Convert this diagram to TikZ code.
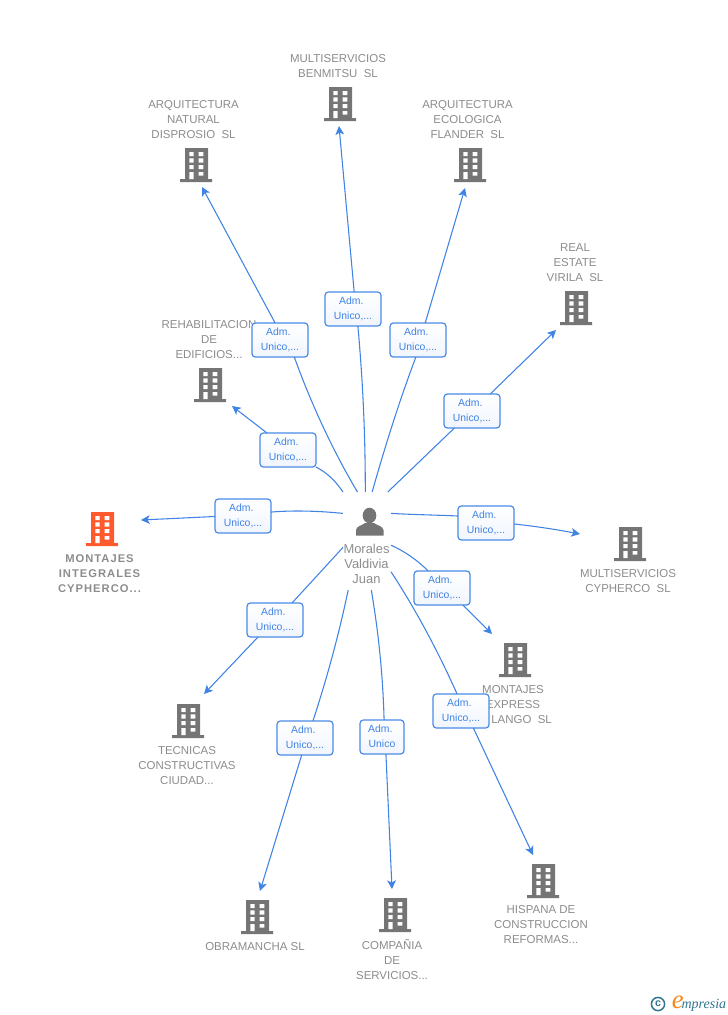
\documentclass[tikz,border=0pt]{standalone}
\usepackage{fontspec}
\setmainfont{Liberation Sans}
\newfontfamily\boldlab[LetterSpace=9]{Liberation Sans Bold}
\newfontfamily\logofont{Liberation Serif}
\usetikzlibrary{arrows.meta}
\definecolor{linkblue}{HTML}{3F83E4}
\definecolor{boxblue}{HTML}{4A8BE6}
\definecolor{txtblue}{HTML}{3F83E4}
\definecolor{labgray}{HTML}{8C8C8C}
\definecolor{icongray}{HTML}{757575}
\definecolor{orangeicon}{HTML}{FF5A2D}
\definecolor{logoteal}{HTML}{2F7590}
\definecolor{logoorange}{HTML}{F08A1D}
\newcommand{\wsp}{\hspace{0.55em}}
\newcommand{\rtxt}[1]{\raisebox{-1.2pt}{\begin{tabular}{@{}c@{}}\mbox{Adm.\hspace{2.5pt}}\\#1\end{tabular}}}
\newcommand{\bldg}[4]{% name, centre x, top y, colour
  \node[bldnode] (#1) at (#2,#3+17) {};
  \begin{scope}[shift={(#2,#3)}]
    \fill[#4] (-11,0) rectangle (12,31) (-16,31) rectangle (16,34);
    \fill[white] (-6.7,4) rectangle (-2.3,8) (2.7,4) rectangle (7.3,8)
      (-6.7,10.3) rectangle (-2.3,14.7) (2.7,10.3) rectangle (7.3,14.7)
      (-6.7,17) rectangle (-2.3,21) (2.7,17) rectangle (7.3,21)
      (-6.7,24) rectangle (-2.3,31) (2.7,24) rectangle (7.3,27.7);
  \end{scope}}
\tikzset{
  bldnode/.style={inner sep=0pt,minimum width=24pt,minimum height=25.5pt},
  lab/.style={inner sep=0pt,align=center,text=labgray,font=\fontsize{8.6pt}{11.25pt}\selectfont},
  mainlab/.style={inner sep=0pt,align=center,text=labgray,font=\boldlab\fontsize{8.4pt}{11.25pt}\selectfont},
  perslab/.style={inner sep=0pt,align=center,text=labgray,font=\fontsize{9.7pt}{11.25pt}\selectfont},
  rel/.style={draw=boxblue,line width=0.9pt,rounded corners=2.5pt,top color=white,bottom color=white!92!boxblue,
    minimum width=42pt,minimum height=25.5pt,inner sep=0pt,outer sep=0pt,text=txtblue,
    font=\fontsize{7.8pt}{11.25pt}\selectfont},
  relsmall/.style={rel,minimum width=33pt},
  conn/.style={draw=linkblue,line width=0.8pt},
  arr/.style={conn,-{Stealth[length=6.5pt,width=6.5pt,inset=1.6pt]}},
  persbox/.style={inner sep=0pt,outer sep=0pt,minimum width=36pt,minimum height=73.5pt}
}
\begin{document}
\begin{tikzpicture}[x=0.75pt,y=-0.75pt]
\useasboundingbox (0,0) rectangle (728,1015);
% person
\node[persbox] (person) at (367,541) {};
% buildings
\bldg{arqnat}{196}{148}{icongray}
\bldg{benmitsu}{340}{87}{icongray}
\bldg{arqeco}{470}{148}{icongray}
\bldg{virila}{576}{291}{icongray}
\bldg{rehab}{210}{368}{icongray}
\bldg{montint}{102}{512}{orangeicon}
\bldg{cypherco}{630}{527}{icongray}
\bldg{express}{515}{643}{icongray}
\bldg{tecnicas}{188}{704}{icongray}
\bldg{obra}{257}{900}{icongray}
\bldg{compania}{395}{898}{icongray}
\bldg{hispana}{543}{864}{icongray}
% labels
\node[lab] (larqnat) at (193.5,120) {ARQUITECTURA\\NATURAL\\DISPROSIO\wsp SL};
\node[lab] (lbenmitsu) at (338,66.5) {MULTISERVICIOS\\BENMITSU\wsp SL};
\node[lab] (larqeco) at (467.5,120) {ARQUITECTURA\\ECOLOGICA\\FLANDER\wsp SL};
\node[lab] (lvirila) at (575,263) {REAL\\ESTATE\\VIRILA\wsp SL};
\node[lab] (lrehab) at (209,340) {REHABILITACION\\DE\\EDIFICIOS...};
\node[mainlab] (lmontint) at (99.5,574) {MONTAJES\\INTEGRALES\\CYPHERCO...};
\node[lab] (lcypherco) at (628,581.5) {MULTISERVICIOS\\CYPHERCO\wsp SL};
\node[lab] (lexpress) at (513,705) {MONTAJES\\EXPRESS\\\phantom{ME}LANGO\wsp SL};
\node[lab] (ltecnicas) at (187,766) {TECNICAS\\CONSTRUCTIVAS\\CIUDAD...};
\node[lab] (lobra) at (255,947) {OBRAMANCHA SL};
\node[lab] (lcompania) at (392,960) {COMPAÑIA\\DE\\SERVICIOS...};
\node[lab] (lhispana) at (541,925) {HISPANA DE\\CONSTRUCCION\\REFORMAS...};
\node[perslab] (lperson) at (366.5,564) {Morales\\Valdivia\\Juan};
% person icon
\fill[icongray] (369.5,515.5) ellipse (6.8 and 7.8);
\fill[icongray] (356,535.5) -- (356,530) .. controls (356.5,526) and (362,525.5) .. (365,523) -- (374,523) .. controls (377,525.5) and (383,526) .. (383.5,530) -- (383.5,535.5) -- cycle;
% connector free ends
\coordinate (e1) at (202,187);
\coordinate (e2) at (339,126);
\coordinate (e3) at (465,188);
\coordinate (e4) at (556,330);
\coordinate (e5) at (232,406);
\coordinate (e6) at (141,520);
\coordinate (e7) at (580,534);
\coordinate (e8) at (492,634);
\coordinate (e9) at (533,855);
\coordinate (e10) at (392,889);
\coordinate (e11) at (260,891);
\coordinate (e12) at (204,694);
% relation boxes
\node[rel] (b1) at (280,340) {\rtxt{Unico,...}};
\node[rel] (b2) at (353,309) {\rtxt{Unico,...}};
\node[rel] (b3) at (418,340) {\rtxt{Unico,...}};
\node[rel] (b4) at (472,411) {\rtxt{Unico,...}};
\node[rel] (b5) at (288,450) {\rtxt{Unico,...}};
\node[rel] (b6) at (243,516) {\rtxt{Unico,...}};
\node[rel] (b7) at (486,523) {\rtxt{Unico,...}};
\node[rel] (b8) at (442,588) {\rtxt{Unico,...}};
\node[rel] (b9) at (461,711) {\rtxt{Unico,...}};
\node[relsmall] (b10) at (382,737) {\rtxt{Unico}};
\node[rel] (b11) at (305,738) {\rtxt{Unico,...}};
\node[rel] (b12) at (275,620) {\rtxt{Unico,...}};
% connectors
\draw[conn] (person.101.8) .. controls (332.7,450.3) and (311.7,405) .. (b1.-50.5);
\draw[arr] (b1.106.4) -- (e1);
\draw[conn] (person.92.4) .. controls (365.4,438) and (363,382.3) .. (b2.-74.5);
\draw[arr] (b2.86.6) -- (e2);
\draw[conn] (person.84) .. controls (385.4,445) and (400,399) .. (b3.-97.7);
\draw[arr] (b3.67.6) -- (e3);
\draw[conn] (person.67.4) -- (b4.-136.6);
\draw[arr] (b4.43.4) -- (e4);
\draw[conn] (person.north west) .. controls (336,481.7) and (327.7,473) .. (b5.south east);
\draw[arr] (b5.141) -- (e5);
\draw[conn] (person.131) .. controls (316.3,510.7) and (292,510.3) .. (b6.8.1);
\draw[arr] (b6.181) -- (e6);
\draw[conn] (person.49) .. controls (414,514.7) and (437,515) .. (b7.166);
\draw[arr] (b7.-2) .. controls (533.3,526) and (555.3,529.3) .. (e7);
\draw[conn] (person.-10) .. controls (404,551) and (416,559) .. (b8.129.5);
\draw[arr] (b8.-39) -- (e8);
\draw[conn] (person.-52) .. controls (415,608.6) and (437,649) .. (b9.103);
\draw[arr] (b9.-54.8) -- (e9);
\draw[conn] (person.-85) .. controls (378.7,633.3) and (383,677.3) .. (b10.83.3);
\draw[arr] (b10.-77.7) -- (e10);
\draw[conn] (person.-111.6) .. controls (339.8,630.3) and (328.3,674) .. (b11.65.6);
\draw[arr] (b11.-101) -- (e11);
\draw[conn] (person.195) -- (b12.45.5);
\draw[arr] (b12.-135) -- (e12);
% logo
\draw[logoteal,line width=1.1pt] (658,1004) circle (6.6);
\node[inner sep=0pt,text=logoteal,font=\bfseries\fontsize{8pt}{8pt}\selectfont] (logoc) at (658,1003.5) {c};
\node[inner sep=0pt,anchor=base west,text=logoteal,font=\logofont\itshape\fontsize{10.5pt}{11pt}\selectfont] (logot) at (671.5,1008) {\textcolor{logoorange}{\fontsize{20pt}{20pt}\selectfont e}\kern-1.5pt mpresia};
\end{tikzpicture}
\end{document}
